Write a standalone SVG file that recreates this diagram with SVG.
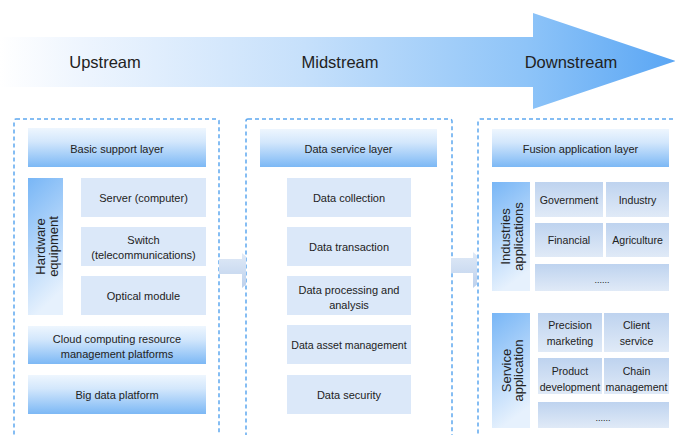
<svg xmlns="http://www.w3.org/2000/svg" width="675" height="435" viewBox="0 0 675 435">
<defs>
<linearGradient id="bigArrow" x1="0" y1="0" x2="675" y2="0" gradientUnits="userSpaceOnUse">
<stop offset="0" stop-color="#ffffff"/>
<stop offset="0.12" stop-color="#eef5fe"/>
<stop offset="0.45" stop-color="#c6e0fb"/>
<stop offset="0.78" stop-color="#8ec4f8"/>
<stop offset="1" stop-color="#5aa6f4"/>
</linearGradient>
<linearGradient id="hdr" x1="0" y1="0" x2="0" y2="1">
<stop offset="0" stop-color="#eef6fe"/>
<stop offset="0.35" stop-color="#d3e7fc"/>
<stop offset="1" stop-color="#7cb8f5"/>
</linearGradient>
<linearGradient id="vbar" x1="0" y1="0" x2="0.25" y2="1">
<stop offset="0" stop-color="#78b6f6"/>
<stop offset="0.55" stop-color="#b4d6fa"/>
<stop offset="1" stop-color="#e6f1fd"/>
</linearGradient>
<linearGradient id="cell" x1="0" y1="0" x2="0" y2="1">
<stop offset="0" stop-color="#bed3ef"/>
<stop offset="1" stop-color="#e0eaf7"/>
</linearGradient>
<linearGradient id="conn" x1="0" y1="0" x2="0" y2="1">
<stop offset="0" stop-color="#e0eaf7"/>
<stop offset="1" stop-color="#bcd0ec"/>
</linearGradient>
<style>
text{font-family:"Liberation Sans",Arial,sans-serif;fill:#222;text-anchor:middle}
.big{font-size:16.5px}
.t{font-size:11px}
.c{font-size:10.6px}
.v{font-size:13px}
.dots{font-size:9px}
.panel{fill:none;stroke:#5ea8f0;stroke-width:1.5;stroke-dasharray:4 3}
.hdr{fill:url(#hdr)}
.box{fill:#dbe8f9}
.vbar{fill:url(#vbar)}
.cell{fill:url(#cell)}
.conn{fill:url(#conn)}
</style>
</defs>
<rect width="675" height="435" fill="#ffffff"/>

<g id="flow-arrow">
<polygon points="0,37 533,37 533,13 676,61 533,109 533,87 0,87" fill="url(#bigArrow)"/>
<text class="big" x="105" y="68">Upstream</text>
<text class="big" x="340" y="68">Midstream</text>
<text class="big" x="571" y="68">Downstream</text>
</g>

<g id="panels">
<rect class="panel" x="14" y="119" width="205" height="330" rx="2"/>
<rect class="panel" x="246" y="119" width="206" height="330" rx="2"/>
<rect class="panel" x="478" y="119" width="215" height="330" rx="2"/>
</g>

<g id="connectors">
<polygon class="conn" points="219,259 242,259 242,253 246,256.5 246,284.5 242,288 242,274 219,274"/>
<polygon class="conn" points="451,258 473,258 473,252 477,255.5 477,284.5 473,288 473,273 451,273"/>
</g>

<g id="basic-support-layer">
<rect class="hdr" x="28" y="128" width="178" height="39"/>
<text class="t" x="117" y="153">Basic support layer</text>
</g>
<g id="hardware-equipment">
<rect class="vbar" x="28" y="178" width="35" height="137"/>
<text class="v" transform="translate(45.5,246.5) rotate(-90)"><tspan x="0" y="-0.5">Hardware</tspan><tspan x="0" y="12.5">equipment</tspan></text>
</g>
<g id="server">
<rect class="box" x="81" y="178" width="125" height="39"/>
<text class="t" x="143.5" y="201.5">Server (computer)</text>
</g>
<g id="switch">
<rect class="box" x="81" y="227" width="125" height="39"/>
<text class="t" x="143.5" y="244">Switch</text>
<text class="t" x="143.5" y="259">(telecommunications)</text>
</g>
<g id="optical-module">
<rect class="box" x="81" y="276" width="125" height="39"/>
<text class="t" x="143.5" y="299.5">Optical module</text>
</g>
<g id="cloud-computing">
<rect class="hdr" x="28" y="326" width="178" height="38"/>
<text class="t" x="117" y="343">Cloud computing resource</text>
<text class="t" x="117" y="358">management platforms</text>
</g>
<g id="big-data-platform">
<rect class="hdr" x="28" y="375" width="178" height="39"/>
<text class="t" x="117" y="398.5">Big data platform</text>
</g>

<g id="data-service-layer">
<rect class="hdr" x="260" y="129" width="177" height="38"/>
<text class="t" x="348.5" y="153">Data service layer</text>
</g>
<g id="data-collection">
<rect class="box" x="287" y="178" width="124" height="39"/>
<text class="t" x="349" y="201.5">Data collection</text>
</g>
<g id="data-transaction">
<rect class="box" x="287" y="227" width="124" height="39"/>
<text class="t" x="349" y="250.5">Data transaction</text>
</g>
<g id="data-processing">
<rect class="box" x="287" y="276" width="124" height="39"/>
<text class="t" x="349" y="293.5">Data processing and</text>
<text class="t" x="349" y="308.5">analysis</text>
</g>
<g id="data-asset-management">
<rect class="box" x="287" y="325" width="124" height="39"/>
<text class="c" x="349" y="348.5">Data asset management</text>
</g>
<g id="data-security">
<rect class="box" x="287" y="375" width="124" height="39"/>
<text class="t" x="349" y="398.5">Data security</text>
</g>

<g id="fusion-application-layer">
<rect class="hdr" x="492" y="129" width="177" height="38"/>
<text class="t" x="580.5" y="153">Fusion application layer</text>
</g>
<g id="industries-applications">
<rect class="vbar" x="492" y="182" width="38" height="109"/>
<text class="v" transform="translate(511,236.5) rotate(-90)"><tspan x="0" y="-1">Industries</tspan><tspan x="0" y="12">applications</tspan></text>
</g>
<g id="government">
<rect class="cell" x="535" y="182" width="68" height="35"/>
<text class="c" x="569" y="203.5">Government</text>
</g>
<g id="industry">
<rect class="cell" x="606" y="182" width="63" height="35"/>
<text class="c" x="637.5" y="203.5">Industry</text>
</g>
<g id="financial">
<rect class="cell" x="535" y="223" width="68" height="34"/>
<text class="c" x="569" y="244">Financial</text>
</g>
<g id="agriculture">
<rect class="cell" x="606" y="223" width="63" height="34"/>
<text class="c" x="637.5" y="244">Agriculture</text>
</g>
<g id="industries-more">
<rect class="cell" x="535" y="264" width="134" height="27"/>
<text class="dots" x="602" y="283">......</text>
</g>

<g id="service-application">
<rect class="vbar" x="492" y="313" width="38" height="115"/>
<text class="v" transform="translate(511,370.5) rotate(-90)"><tspan x="0" y="-0.5">Service</tspan><tspan x="0" y="12">application</tspan></text>
</g>
<g id="precision-marketing">
<rect class="cell" x="538" y="313" width="64" height="39"/>
<text class="c" x="570" y="329">Precision</text>
<text class="c" x="570" y="345">marketing</text>
</g>
<g id="client-service">
<rect class="cell" x="604" y="313" width="65" height="39"/>
<text class="c" x="636.5" y="329">Client</text>
<text class="c" x="636.5" y="345">service</text>
</g>
<g id="product-development">
<rect class="cell" x="538" y="358" width="64" height="36"/>
<text class="c" x="570" y="375">Product</text>
<text class="c" x="570" y="391">development</text>
</g>
<g id="chain-management">
<rect class="cell" x="604" y="358" width="65" height="36"/>
<text class="c" x="636.5" y="375">Chain</text>
<text class="c" x="636.5" y="391">management</text>
</g>
<g id="service-more">
<rect class="cell" x="538" y="402" width="131" height="26"/>
<text class="dots" x="603" y="421">......</text>
</g>
</svg>
